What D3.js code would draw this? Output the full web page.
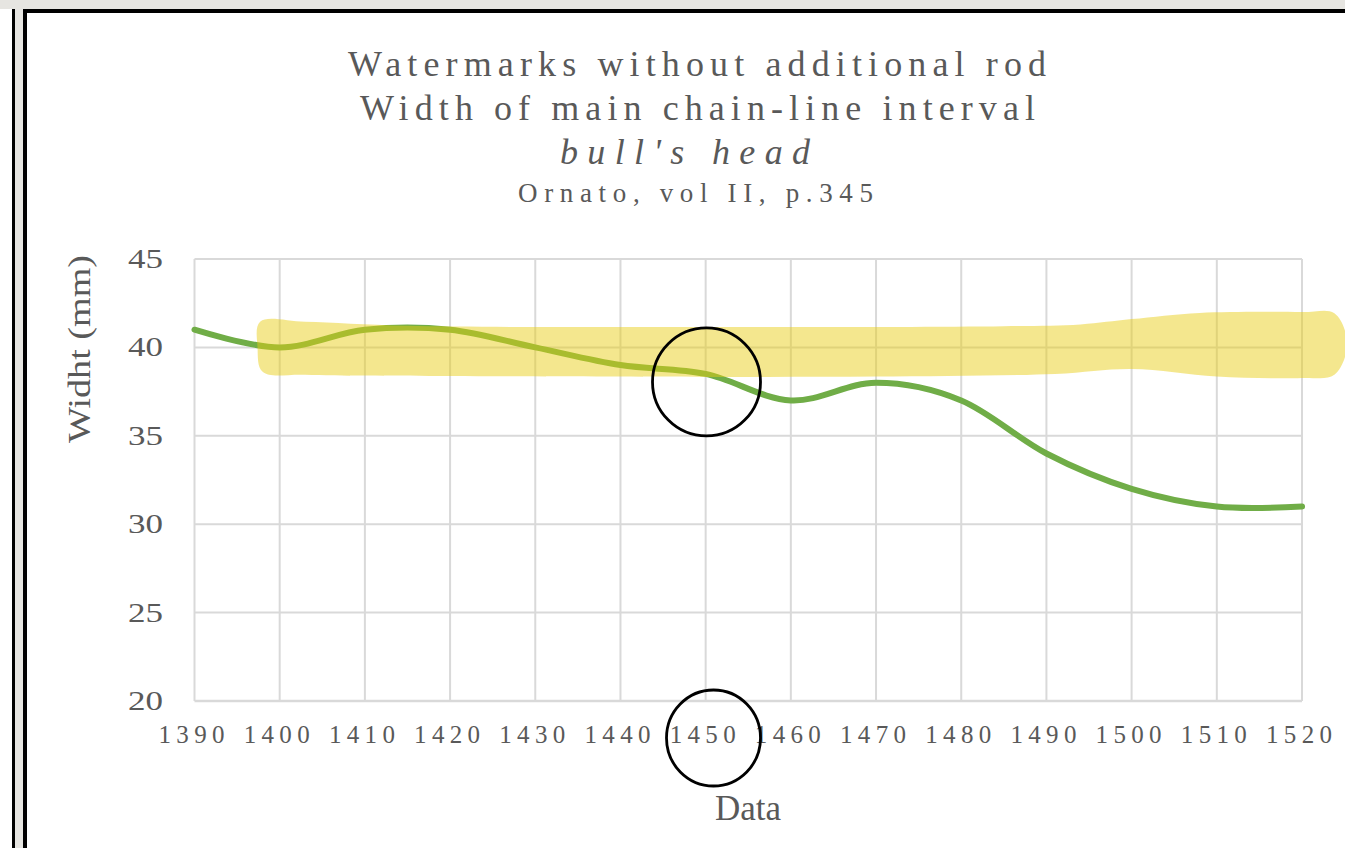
<!DOCTYPE html>
<html>
<head>
<meta charset="utf-8">
<script src="https://cdn.jsdelivr.net/npm/d3@7"></script>
<style>
  html, body { margin: 0; padding: 0; background: #ffffff; }
  svg { display: block; }
  text { font-family: "Liberation Serif", "Times New Roman", serif; fill: #595959; }
</style>
</head>
<body>
<svg id="chart" width="1345" height="848"></svg>
<script>
// Chain-line interval width by decade (bull's head watermarks)
const years = [1390, 1400, 1410, 1420, 1430, 1440, 1450, 1460, 1470, 1480, 1490, 1500, 1510, 1520];
const widths = [41, 40, 41, 41, 40, 39, 38.5, 37, 38, 37, 34, 32, 31, 31];

const xTicks = [1390, 1400, 1410, 1420, 1430, 1440, 1450, 1460, 1470, 1480, 1490, 1500, 1510, 1520];
const yTicks = [20, 25, 30, 35, 40, 45];

const titleLines = [
  "Watermarks without additional rod",
  "Width of main chain-line interval",
  "bull's head",
  "Ornato, vol II, p.345"
];
const yTitle = "Widht (mm)";
const xTitle = "Data";

// Highlighter stroke around the 40 mm level, outline in (year, mm)
const bandTop = [[1397.7, 41.45], [1403, 41.45], [1415, 41.22], [1450, 41.15], [1485, 41.2], [1494, 41.3],
                 [1500, 41.6], [1508, 41.95], [1520, 42.0], [1523.8, 41.93]];
const bandRight = [[1525.3, 40.2]];
const bandBottom = [[1523.8, 38.45], [1520, 38.27], [1510, 38.36], [1500, 38.78], [1491, 38.5],
                    [1470, 38.35], [1450, 38.33], [1420, 38.38], [1403, 38.45], [1398, 38.62]];
const bandLeft = [[1397.4, 40.0]];
// Pen circles drawn around 1450
const ringCenter = [1450.1, 38.05];

const svg = d3.select("#chart");
const W = 1345, H = 848;

// ---- window frame ----
svg.append("rect").attr("x", 0).attr("y", 0).attr("width", W).attr("height", 9).attr("fill", "#e6e5e1");
svg.append("rect").attr("x", 12).attr("y", 9).attr("width", 3).attr("height", H - 9).attr("fill", "#000");
svg.append("rect").attr("x", 15).attr("y", 9).attr("width", 8).attr("height", H - 9).attr("fill", "#e6e5e1");
svg.append("rect").attr("x", 23).attr("y", 9).attr("width", 4).attr("height", H - 9).attr("fill", "#000");
svg.append("rect").attr("x", 23).attr("y", 9).attr("width", W - 23).attr("height", 4).attr("fill", "#000");

// ---- scales ----
const x = d3.scaleLinear().domain([1390, 1520]).range([194.5, 1302]);
const y = d3.scaleLinear().domain([20, 45]).range([701, 259]);

// ---- gridlines ----
const grid = svg.append("g");
grid.selectAll("line.h").data(yTicks).join("line")
  .attr("x1", x(1390)).attr("x2", x(1520))
  .attr("y1", d => y(d)).attr("y2", d => y(d))
  .attr("stroke", "#d9d9d9").attr("stroke-width", d => d === 20 ? 2.6 : 2);
grid.selectAll("line.v").data(xTicks).join("line")
  .attr("x1", d => x(d)).attr("x2", d => x(d))
  .attr("y1", y(45)).attr("y2", y(20))
  .attr("stroke", "#d9d9d9").attr("stroke-width", 2);

// ---- tick labels ----
svg.append("g").selectAll("text").data(yTicks).join("text")
  .attr("x", 163).attr("y", d => y(d) + 9)
  .attr("text-anchor", "end")
  .attr("font-size", 27)
  .attr("textLength", 35).attr("lengthAdjust", "spacingAndGlyphs")
  .text(d => d);

svg.append("g").selectAll("text").data(xTicks).join("text")
  .attr("x", d => x(d) - 36).attr("y", 743)
  .attr("font-size", 25)
  .attr("textLength", 66).attr("lengthAdjust", "spacing")
  .text(d => d);

// ---- axis titles ----
svg.append("text")
  .attr("transform", "translate(90,443) rotate(-90)")
  .attr("x", 0).attr("y", 0)
  .attr("font-size", 32)
  .attr("textLength", 188).attr("lengthAdjust", "spacingAndGlyphs")
  .text(yTitle);

svg.append("text")
  .attr("x", 748).attr("y", 820)
  .attr("text-anchor", "middle")
  .attr("font-size", 35)
  .text(xTitle);

// ---- chart title ----
const titleSpec = [
  { x: 348, y: 76, len: 698, size: 36, italic: false },
  { x: 360, y: 120, len: 675, size: 36, italic: false },
  { x: 560, y: 164, len: 250, size: 36, italic: true },
  { x: 518, y: 202, len: 355, size: 27, italic: false }
];
svg.append("g").selectAll("text").data(titleLines).join("text")
  .attr("x", (d, i) => titleSpec[i].x)
  .attr("y", (d, i) => titleSpec[i].y)
  .attr("font-size", (d, i) => titleSpec[i].size)
  .attr("font-style", (d, i) => titleSpec[i].italic ? "italic" : "normal")
  .attr("textLength", (d, i) => titleSpec[i].len)
  .attr("lengthAdjust", "spacing")
  .text(d => d);

// ---- series line ----
const line = d3.line()
  .x((d, i) => x(years[i]))
  .y(d => y(d))
  .curve(d3.curveCatmullRom.alpha(0));
svg.append("path")
  .datum(widths)
  .attr("d", line)
  .attr("fill", "none")
  .attr("stroke", "#70ad47")
  .attr("stroke-width", 6)
  .attr("stroke-linecap", "round")
  .attr("stroke-linejoin", "round");

// ---- highlighter band ----
const bandPts = bandTop.concat(bandRight, bandBottom, bandLeft);
const band = d3.line()
  .x(d => x(d[0]))
  .y(d => y(d[1]))
  .curve(d3.curveCatmullRomClosed.alpha(0.5));
svg.append("path")
  .datum(bandPts)
  .attr("d", band)
  .attr("fill", "#e8cd12")
  .attr("fill-opacity", 0.48);

// ---- pen circles ----
svg.append("circle")
  .attr("cx", x(ringCenter[0])).attr("cy", y(ringCenter[1]))
  .attr("r", 54)
  .attr("fill", "none").attr("stroke", "#000").attr("stroke-width", 2.8);
svg.append("ellipse")
  .attr("cx", x(ringCenter[0]) + 7).attr("cy", y(20) + 37)
  .attr("rx", 47).attr("ry", 48)
  .attr("fill", "none").attr("stroke", "#000").attr("stroke-width", 2.8);
</script>
</body>
</html>
